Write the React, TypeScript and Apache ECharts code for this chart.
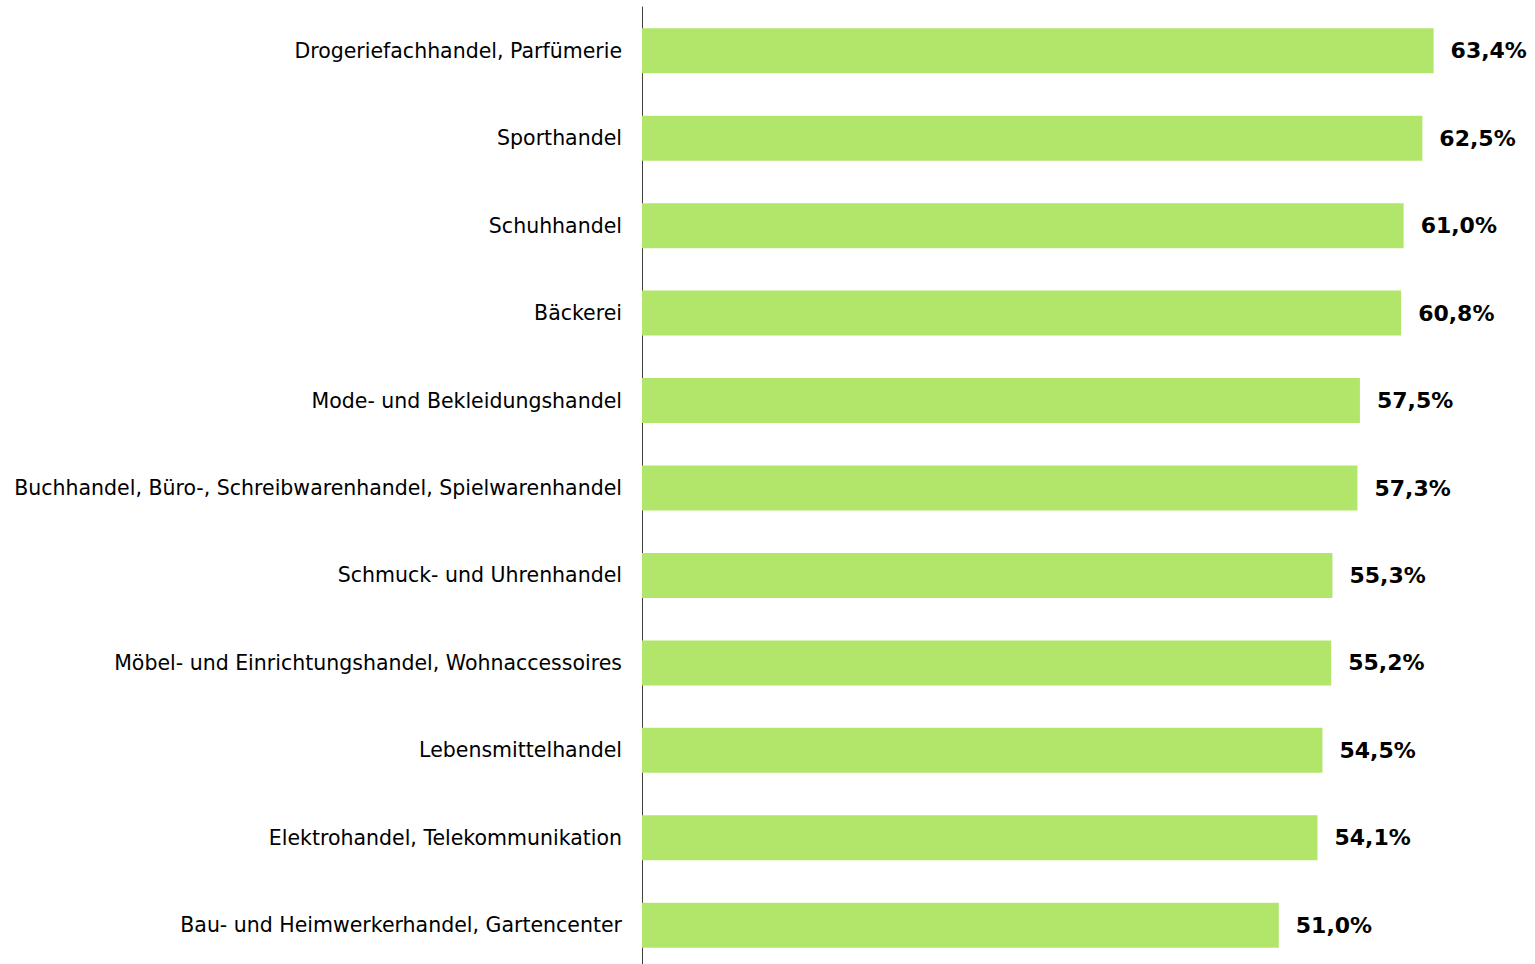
import React, { useEffect, useRef } from "react";
import * as echarts from "echarts";

const categories = [
  "Drogeriefachhandel, Parfümerie",
  "Sporthandel",
  "Schuhhandel",
  "Bäckerei",
  "Mode- und Bekleidungshandel",
  "Buchhandel, Büro-, Schreibwarenhandel, Spielwarenhandel",
  "Schmuck- und Uhrenhandel",
  "Möbel- und Einrichtungshandel, Wohnaccessoires",
  "Lebensmittelhandel",
  "Elektrohandel, Telekommunikation",
  "Bau- und Heimwerkerhandel, Gartencenter",
];

const values = [63.4, 62.5, 61.0, 60.8, 57.5, 57.3, 55.3, 55.2, 54.5, 54.1, 51.0];

export default function App() {
  const ref = useRef<HTMLDivElement>(null);
  useEffect(() => {
    if (!ref.current) return;
    const chart = echarts.init(ref.current, null, { renderer: "svg" });
    chart.setOption({
      animation: false,
      grid: { left: 642, top: 7, width: 874, height: 962, containLabel: false },
      xAxis: { type: "value", min: 0, max: 70, show: false },
      yAxis: {
        type: "category",
        data: categories,
        inverse: true,
        axisLine: { show: true, lineStyle: { color: "#404040", width: 1 } },
        axisTick: { show: false },
        splitLine: { show: false },
        axisLabel: {
          margin: 20,
          color: "#000",
          fontFamily: "DejaVu Sans",
          fontSize: 20.5,
        },
      },
      series: [
        {
          type: "bar",
          data: values,
          barWidth: 45,
          itemStyle: { color: "#b2e66b" },
          label: {
            show: true,
            position: "right",
            distance: 17,
            color: "#000",
            fontFamily: "DejaVu Sans",
            fontWeight: "bold",
            fontSize: 22,
            formatter: (p: any) => p.value.toFixed(1).replace(".", ",") + "%",
          },
        },
      ],
    });
    return () => chart.dispose();
  }, []);
  return (
    <div
      style={{
        position: "absolute",
        left: 0,
        top: 0,
        width: 1535,
        height: 964,
        overflow: "hidden",
      }}
    >
      <div ref={ref} style={{ width: 1535, height: 990 }} />
    </div>
  );
}
